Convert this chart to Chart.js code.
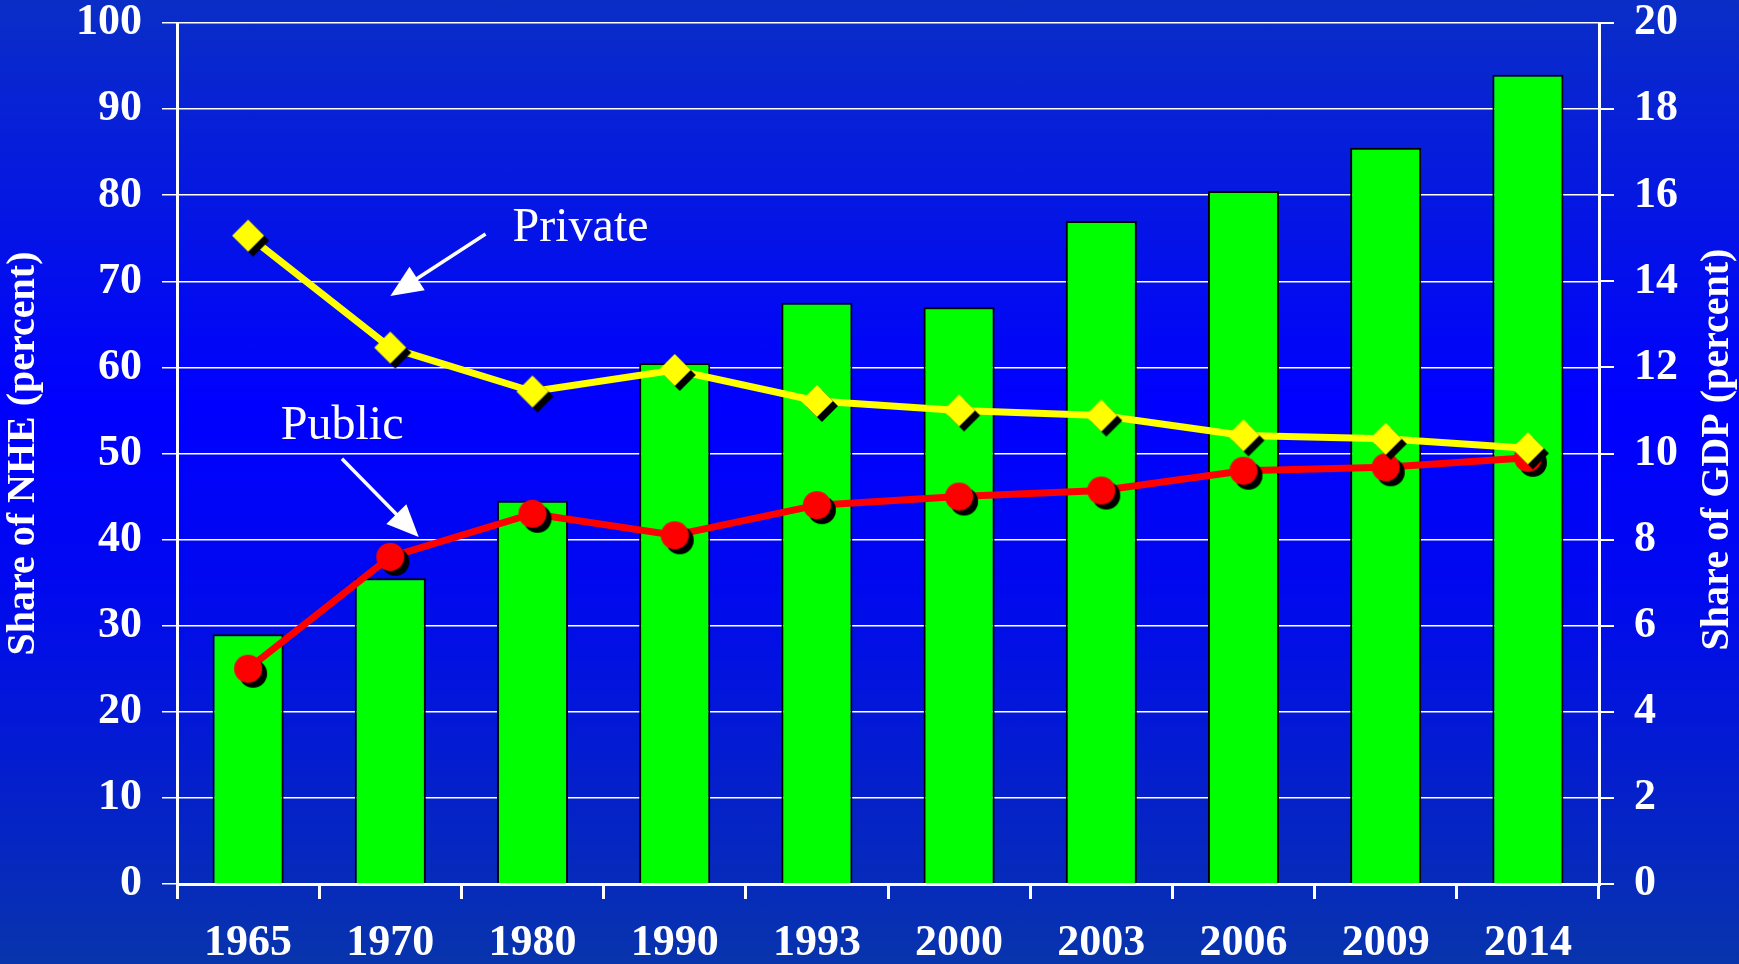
<!DOCTYPE html>
<html>
<head>
<meta charset="utf-8">
<script src="https://cdn.jsdelivr.net/npm/chart.js@4/dist/chart.umd.min.js"></script>
<style>
  html, body { margin: 0; padding: 0; }
  body {
    width: 1739px; height: 964px; overflow: hidden;
    background: linear-gradient(to bottom, #0a2ec6 0%, #0000ff 42%, #0008f0 60%, #0834ac 100%);
  }
  #wrap { position: relative; width: 1739px; height: 964px; }
</style>
</head>
<body>
<div id="wrap"><canvas id="nheChart"></canvas></div>
<script>
// Years on the category axis
const years = ['1965', '1970', '1980', '1990', '1993', '2000', '2003', '2006', '2009', '2014'];

// Health spending as share of GDP (right axis, bars)
const gdpShare = [5.8, 7.1, 8.9, 12.1, 13.5, 13.4, 15.4, 16.1, 17.1, 18.8];

// Private / public share of national health expenditure (left axis, lines)
const privateShare = [75.3, 62.3, 57.2, 59.7, 56.1, 55, 54.4, 52.1, 51.7, 50.6];
const publicShare = [25, 38, 43, 40.5, 44, 45, 45.7, 48, 48.4, 49.5];

const serif = "'Liberation Serif', 'Times New Roman', serif";

// point marker with a black drop shadow, drawn into a small canvas
function makeMarker(shape, color, r, off) {
    const c = document.createElement('canvas');
    const half = r + off + 1;
    c.width = c.height = half * 2;
    const g = c.getContext('2d');
    const paint = (cx, cy, fill) => {
        g.fillStyle = fill;
        g.beginPath();
        if (shape === 'diamond') {
            g.moveTo(cx, cy - r);
            g.lineTo(cx + r, cy);
            g.lineTo(cx, cy + r);
            g.lineTo(cx - r, cy);
            g.closePath();
        } else {
            g.arc(cx, cy, r, 0, Math.PI * 2);
        }
        g.fill();
    };
    paint(half + off, half + off, '#000000');
    paint(half, half, color);
    return c;
}

const diamond = makeMarker('diamond', '#ffff00', 16, 5);
const dot = makeMarker('circle', '#ff0000', 14, 5);

// y scales: fixed widths, no extra room for the top tick label
const fixWidth = w => s => {
    s.width = w;
    s.paddingTop = 0;
    s.paddingBottom = 0;
};

// text labels + arrows, positioned in data units
const notes = {
    id: 'notes',
    afterDatasetsDraw(chart) {
        const { ctx, scales } = chart;
        const px = v => scales.x.getPixelForValue(v);
        const py = v => scales.y.getPixelForValue(v);
        ctx.save();
        ctx.fillStyle = '#ffffff';
        ctx.strokeStyle = '#ffffff';
        ctx.font = '48px ' + serif;
        ctx.textBaseline = 'middle';
        ctx.fillText('Private', px(1.86), py(76.2));
        ctx.fillText('Public', px(0.23), py(53.1));

        const arrow = (x1, y1, x2, y2) => {
            const a = Math.atan2(y2 - y1, x2 - x1);
            const len = 32, w = 14;
            ctx.lineWidth = 3.5;
            ctx.beginPath();
            ctx.moveTo(x1, y1);
            ctx.lineTo(x2 - Math.cos(a) * len * 0.8, y2 - Math.sin(a) * len * 0.8);
            ctx.stroke();
            ctx.beginPath();
            ctx.moveTo(x2, y2);
            ctx.lineTo(x2 - Math.cos(a) * len - Math.sin(a) * w, y2 - Math.sin(a) * len + Math.cos(a) * w);
            ctx.lineTo(x2 - Math.cos(a) * len + Math.sin(a) * w, y2 - Math.sin(a) * len - Math.cos(a) * w);
            ctx.closePath();
            ctx.fill();
        };
        arrow(px(1.67), py(75.5), px(1.0), py(68.3));
        arrow(px(0.66), py(49.4), px(1.2), py(40.3));

        // right axis title, reading bottom to top
        const a = chart.chartArea;
        ctx.font = 'bold 40px ' + serif;
        ctx.textAlign = 'center';
        ctx.translate(1718, (a.top + a.bottom) / 2 - 4);
        ctx.rotate(-Math.PI / 2);
        ctx.fillText('Share of GDP (percent)', 0, 0);
        ctx.restore();
    }
};

const ctx = document.getElementById('nheChart').getContext('2d');

const config = {
    type: 'bar',
    data: {
        labels: years,
        datasets: [
            {
                type: 'line',
                label: 'Private',
                data: privateShare,
                yAxisID: 'y',
                borderColor: '#ffff00',
                borderWidth: 7,
                pointStyle: diamond,
                pointRadius: 16,
                tension: 0,
                order: 1
            },
            {
                type: 'line',
                label: 'Public',
                data: publicShare,
                yAxisID: 'y',
                borderColor: '#ff0000',
                borderWidth: 7,
                pointStyle: dot,
                pointRadius: 14,
                tension: 0,
                order: 1
            },
            {
                type: 'bar',
                label: 'Share of GDP',
                data: gdpShare,
                yAxisID: 'y1',
                backgroundColor: '#00ff00',
                borderColor: '#000000',
                borderWidth: 2,
                barPercentage: 0.5,
                categoryPercentage: 1.0,
                order: 2
            }
        ]
    },
    options: {
        responsive: false,
        animation: false,
        layout: { padding: { top: 20, left: 0, right: 0, bottom: 0 } },
        scales: {
            x: {
                afterFit: s => { s.height = 80; },
                grid: {
                    offset: true,
                    drawOnChartArea: false,
                    color: '#ffffff',
                    lineWidth: 3,
                    tickLength: 15
                },
                border: { color: '#ffffff', width: 3 },
                ticks: {
                    color: '#ffffff',
                    padding: 18,
                    maxRotation: 0,
                    font: { family: serif, size: 44, weight: 'bold' }
                }
            },
            y: {
                position: 'left',
                min: 0,
                max: 100,
                afterFit: fixWidth(177),
                grid: { color: '#ffffff', lineWidth: 1.5, tickLength: 15 },
                border: { color: '#ffffff', width: 3 },
                ticks: {
                    stepSize: 10,
                    color: '#ffffff',
                    padding: 20,
                    font: { family: serif, size: 44, weight: 'bold' }
                },
                title: {
                    display: true,
                    text: 'Share of NHE (percent)',
                    color: '#ffffff',
                    padding: 0,
                    font: { family: serif, size: 40, weight: 'bold' }
                }
            },
            y1: {
                position: 'right',
                min: 0,
                max: 20,
                afterFit: fixWidth(140),
                grid: { drawOnChartArea: false, color: '#ffffff', lineWidth: 2, tickLength: 15 },
                border: { color: '#ffffff', width: 3 },
                ticks: {
                    stepSize: 2,
                    color: '#ffffff',
                    padding: 20,
                    font: { family: serif, size: 44, weight: 'bold' }
                }
            }
        },
        plugins: {
            legend: { display: false },
            tooltip: { enabled: false }
        }
    },
    plugins: [notes]
};

const canvas = document.getElementById('nheChart');
canvas.width = 1739;
canvas.height = 964;
const nheChart = new Chart(ctx, config);
</script>
</body>
</html>
